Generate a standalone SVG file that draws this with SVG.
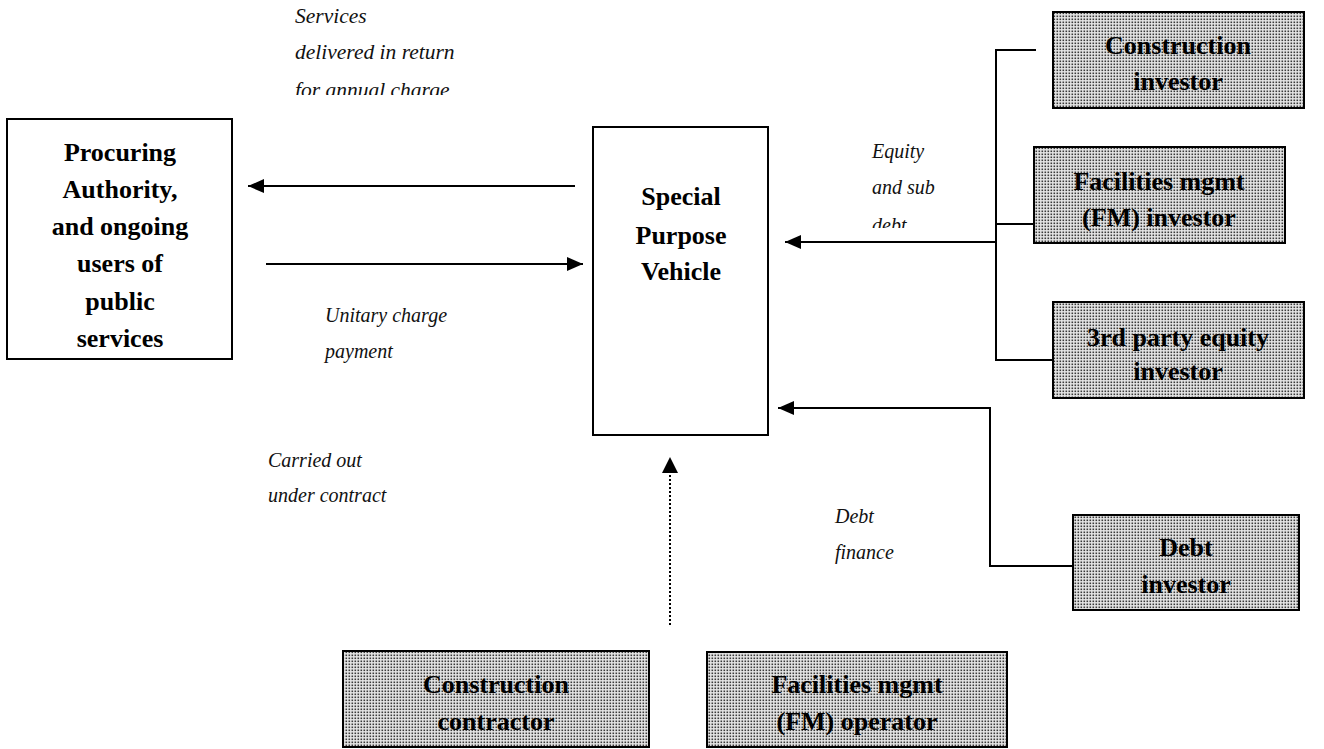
<svg xmlns="http://www.w3.org/2000/svg" width="1324" height="749" viewBox="0 0 1324 749">
<defs>
<pattern id="dots" width="3" height="3" patternUnits="userSpaceOnUse">
<rect width="3" height="3" fill="#e6e6e6"/>
<rect x="0.5" y="0.5" width="1.6" height="1.6" fill="#3a3a3a"/>
</pattern>
<marker id="ah" markerWidth="16" markerHeight="14" refX="16" refY="7" orient="auto" markerUnits="userSpaceOnUse">
<path d="M0,0 L16,7 L0,14 Z" fill="#000"/>
</marker>
<clipPath id="clipTop"><rect x="0" y="0" width="600" height="95"/></clipPath>
<clipPath id="clipEq"><rect x="850" y="120" width="140" height="108"/></clipPath>
</defs>
<style>
.box{fill:#fff;stroke:#000;stroke-width:2}
.sh{fill:url(#dots);stroke:#000;stroke-width:2}
.bt{font-family:"Liberation Serif",serif;font-weight:bold;font-size:26px;text-anchor:middle;fill:#000}
.lb{font-family:"Liberation Serif",serif;font-style:italic;font-size:20px;fill:#111}
.lb2{font-family:"Liberation Serif",serif;font-style:italic;font-size:21.5px;fill:#111}
.ln{fill:none;stroke:#000;stroke-width:2}
.ar{fill:none;stroke:#000;stroke-width:2;marker-end:url(#ah)}
</style>

<g id="procuring">
<rect class="box" x="7" y="119" width="225" height="240"/>
<text class="bt" x="120" y="161">Procuring</text>
<text class="bt" x="120" y="198">Authority,</text>
<text class="bt" x="120" y="235">and ongoing</text>
<text class="bt" x="120" y="272">users of</text>
<text class="bt" x="120" y="310">public</text>
<text class="bt" x="120" y="347">services</text>
</g>

<g id="spv">
<rect class="box" x="593" y="127" width="175" height="308"/>
<text class="bt" x="681" y="205">Special</text>
<text class="bt" x="681" y="244">Purpose</text>
<text class="bt" x="681" y="280">Vehicle</text>
</g>

<g id="construction-investor">
<rect class="sh" x="1053" y="12" width="251" height="96"/>
<text class="bt" x="1178" y="54">Construction</text>
<text class="bt" x="1178" y="90">investor</text>
</g>

<g id="fm-investor">
<rect class="sh" x="1034" y="147" width="251" height="96"/>
<text class="bt" x="1159" y="190">Facilities mgmt</text>
<text class="bt" x="1159" y="226">(FM) investor</text>
</g>

<g id="third-party-investor">
<rect class="sh" x="1053" y="302" width="251" height="96"/>
<text class="bt" x="1178" y="346">3rd party equity</text>
<text class="bt" x="1178" y="380">investor</text>
</g>

<g id="debt-investor">
<rect class="sh" x="1073" y="515" width="226" height="95"/>
<text class="bt" x="1186" y="556">Debt</text>
<text class="bt" x="1186" y="593">investor</text>
</g>

<g id="construction-contractor">
<rect class="sh" x="343" y="651" width="306" height="96"/>
<text class="bt" x="496" y="693">Construction</text>
<text class="bt" x="496" y="730">contractor</text>
</g>

<g id="fm-operator">
<rect class="sh" x="707" y="652" width="300" height="95"/>
<text class="bt" x="857" y="693">Facilities mgmt</text>
<text class="bt" x="857" y="730">(FM) operator</text>
</g>

<g id="connectors">
<line class="ar" x1="575" y1="186" x2="248" y2="186"/>
<line class="ar" x1="266" y1="264" x2="583" y2="264"/>
<path class="ln" d="M1036,50 L996,50 L996,360 L1053,360"/>
<line class="ln" x1="996" y1="224" x2="1034" y2="224"/>
<line class="ar" x1="996" y1="242" x2="785" y2="242"/>
<path class="ar" d="M1073,566 L990,566 L990,408 L778,408"/>
<line x1="670" y1="625" x2="670" y2="474" stroke="#000" stroke-width="2" stroke-dasharray="2,2"/>
<path d="M670,457 L678,473 L662,473 Z" fill="#000"/>
</g>

<g id="labels">
<g clip-path="url(#clipTop)">
<text class="lb2" x="295" y="23">Services</text>
<text class="lb2" x="295" y="59">delivered in return</text>
<text class="lb2" x="295" y="97">for annual charge</text>
</g>
<g clip-path="url(#clipEq)">
<text class="lb" x="872" y="158">Equity</text>
<text class="lb" x="872" y="194">and sub</text>
<text class="lb" x="872" y="232">debt</text>
</g>
<text class="lb" x="325" y="322">Unitary charge</text>
<text class="lb" x="325" y="358">payment</text>
<text class="lb" x="268" y="467">Carried out</text>
<text class="lb" x="268" y="502">under contract</text>
<text class="lb" x="835" y="523">Debt</text>
<text class="lb" x="835" y="559">finance</text>
</g>
</svg>
